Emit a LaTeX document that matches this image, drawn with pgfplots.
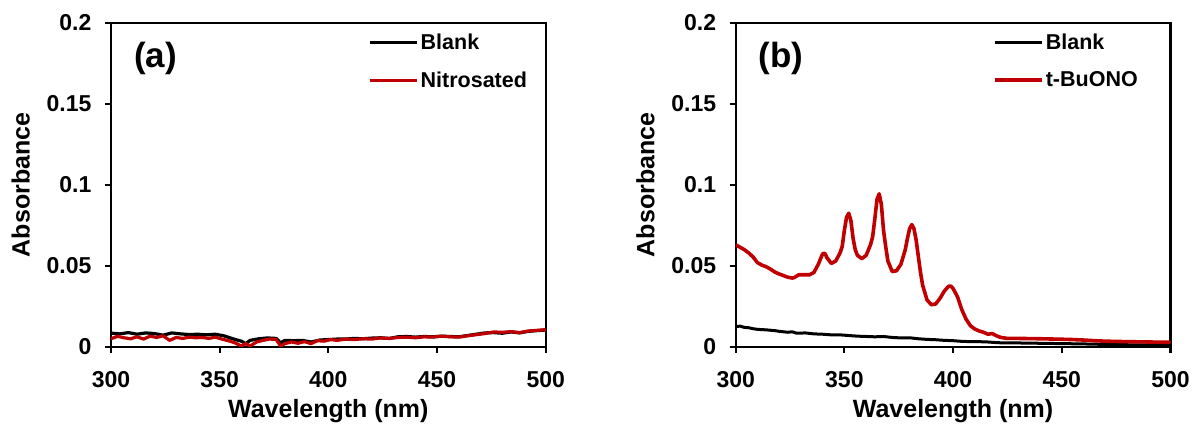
\documentclass[border=0pt]{standalone}
\usepackage{pgfplots}
\pgfplotsset{compat=1.18}
\usepackage{fontspec}
\setmainfont{Liberation Sans}
\definecolor{exred}{RGB}{192,0,0}
\pgfplotsset{
  myax/.style={
    scale only axis, width=435pt, height=324pt,
    xmin=300, xmax=500, ymin=0, ymax=0.2,
    xtick={300,350,400,450,500},
    ytick={0,0.05,0.1,0.15,0.2},
    yticklabels={0,0.05,0.1,0.15,0.2},
    scaled y ticks=false,
    /pgf/number format/assume math mode=true,
    tick align=outside, major tick length=6pt,
    xtick pos=bottom, ytick pos=left,
    axis line style={line width=2.2pt},
    every tick/.style={line width=2.2pt, black},
    ticklabel style={font=\bfseries\fontsize{23}{23}\selectfont},
    xticklabel style={yshift=-15pt},
    yticklabel style={xshift=-10pt},
    xlabel={Wavelength (nm)}, ylabel={Absorbance},
    label style={font=\bfseries\fontsize{25}{25}\selectfont},
    xlabel style={yshift=-5pt},
    ylabel shift=10pt,
    legend cell align=left,
    legend style={draw=none, fill=none, font=\bfseries\fontsize{21.5}{21.5}\selectfont,
      row sep=17pt, anchor=north west},
    legend image code/.code={\draw[#1] (0pt,0pt) -- (47pt,0pt);},
  }
}
\begin{document}
\begin{tikzpicture}
\begin{axis}[myax, at={(111pt,81pt)}, anchor=south west,
  legend style={at={(0.585,0.98)}}]
\addplot[black, line width=3.2pt, line join=round] coordinates {
(300,0.0085)(304,0.0080)(308,0.0088)(312,0.0078)(316,0.0086)(320,0.0082)(324,0.0072)(328,0.0086)(332,0.0080)(336,0.0076)(340,0.0078)(344,0.0074)(348,0.0078)(352,0.0068)(356,0.0050)(360,0.0035)(362,0.0020)(364,0.0040)(368,0.0050)(372,0.0055)(376,0.0052)(378,0.0025)(380,0.0040)(384,0.0038)(388,0.0040)(392,0.0030)(396,0.0042)(400,0.0045)(404,0.0048)(408,0.0048)(412,0.0052)(416,0.0050)(420,0.0054)(424,0.0056)(428,0.0052)(432,0.0062)(436,0.0064)(440,0.0060)(444,0.0064)(448,0.0062)(452,0.0066)(456,0.0064)(460,0.0062)(464,0.0070)(468,0.0078)(472,0.0086)(476,0.0088)(480,0.0084)(484,0.0092)(488,0.0086)(492,0.0096)(496,0.0100)(500,0.0104)};
\addlegendentry{Blank}
\addplot[exred, line width=3.2pt, line join=round] coordinates {
(300,0.0050)(303,0.0065)(306,0.0056)(309,0.0050)(312,0.0062)(315,0.0048)(318,0.0066)(321,0.0058)(324,0.0068)(327,0.0040)(330,0.0058)(333,0.0052)(336,0.0060)(339,0.0056)(342,0.0058)(345,0.0052)(348,0.0060)(351,0.0048)(354,0.0038)(357,0.0025)(360,0.0005)(362,0.0020)(364,0.0005)(367,0.0030)(370,0.0040)(373,0.0048)(376,0.0046)(378,0.0005)(380,0.0020)(383,0.0030)(386,0.0022)(389,0.0032)(392,0.0020)(395,0.0038)(398,0.0035)(401,0.0045)(404,0.0040)(408,0.0048)(412,0.0045)(416,0.0050)(420,0.0048)(424,0.0055)(428,0.0052)(432,0.0058)(436,0.0060)(440,0.0056)(444,0.0062)(448,0.0060)(452,0.0066)(456,0.0062)(460,0.0060)(464,0.0068)(468,0.0075)(472,0.0082)(476,0.0092)(480,0.0090)(484,0.0094)(488,0.0088)(492,0.0098)(496,0.0102)(500,0.0106)};
\addlegendentry{Nitrosated}
\node[anchor=west, font=\bfseries\fontsize{35}{35}\selectfont] at (rel axis cs:0.045,0.89) {(a)};
\end{axis}
\begin{axis}[myax, at={(736pt,81pt)}, anchor=south west,
  legend style={at={(0.585,0.98)}}]
\addplot[black, line width=3pt, line join=round] coordinates {
(300,0.0125)(302,0.0128)(304,0.0120)(306,0.0118)(308,0.0112)(310,0.0108)(314,0.0105)(318,0.0100)(320,0.0096)(324,0.0090)(326,0.0093)(328,0.0084)(332,0.0086)(336,0.0080)(340,0.0078)(344,0.0074)(348,0.0074)(352,0.0070)(356,0.0066)(360,0.0064)(364,0.0062)(368,0.0064)(372,0.0058)(376,0.0055)(380,0.0056)(384,0.0050)(388,0.0046)(392,0.0044)(396,0.0040)(400,0.0038)(404,0.0034)(408,0.0032)(412,0.0032)(416,0.0030)(420,0.0026)(424,0.0024)(430,0.0024)(440,0.0022)(450,0.0020)(460,0.0018)(470,0.0015)(480,0.0013)(490,0.0012)(500,0.0010)};
\addlegendentry{Blank}
\addplot[exred, line width=3.6pt, line join=round] coordinates {
(300,0.0630)(302,0.0615)(304,0.0600)(306,0.0580)(308,0.0555)(310,0.0520)(312,0.0505)(314,0.0495)(316,0.0480)(318,0.0462)(320,0.0450)(322,0.0440)(324,0.0430)(326,0.0425)(327,0.0428)(329,0.0445)(331,0.0445)(334,0.0445)(336,0.0460)(338,0.0510)(340,0.0575)(341,0.0578)(342,0.0550)(344,0.0515)(346,0.0530)(348,0.0580)(349,0.0620)(350,0.0720)(351,0.0800)(352,0.0825)(353,0.0780)(354,0.0670)(355,0.0600)(356,0.0565)(358,0.0545)(360,0.0565)(362,0.0630)(363,0.0680)(364,0.0790)(365,0.0910)(366,0.0945)(367,0.0880)(368,0.0720)(369,0.0620)(370,0.0530)(372,0.0465)(374,0.0470)(376,0.0510)(378,0.0600)(379,0.0670)(380,0.0730)(381,0.0755)(382,0.0730)(383,0.0660)(384,0.0560)(385,0.0460)(386,0.0380)(388,0.0290)(390,0.0260)(392,0.0265)(394,0.0300)(396,0.0345)(398,0.0375)(399,0.0375)(400,0.0360)(402,0.0310)(404,0.0230)(406,0.0170)(408,0.0130)(410,0.0110)(412,0.0098)(414,0.0090)(416,0.0078)(418,0.0082)(420,0.0068)(422,0.0058)(425,0.0052)(430,0.0052)(440,0.0050)(450,0.0047)(455,0.0045)(460,0.0042)(465,0.0038)(470,0.0035)(480,0.0032)(490,0.0030)(500,0.0028)};
\addlegendentry{t-BuONO}
\node[anchor=west, font=\bfseries\fontsize{35}{35}\selectfont] at (rel axis cs:0.045,0.89) {(b)};
\end{axis}
\path[use as bounding box] (0pt,0pt) rectangle (1193pt,428pt);
\end{tikzpicture}
\end{document}
